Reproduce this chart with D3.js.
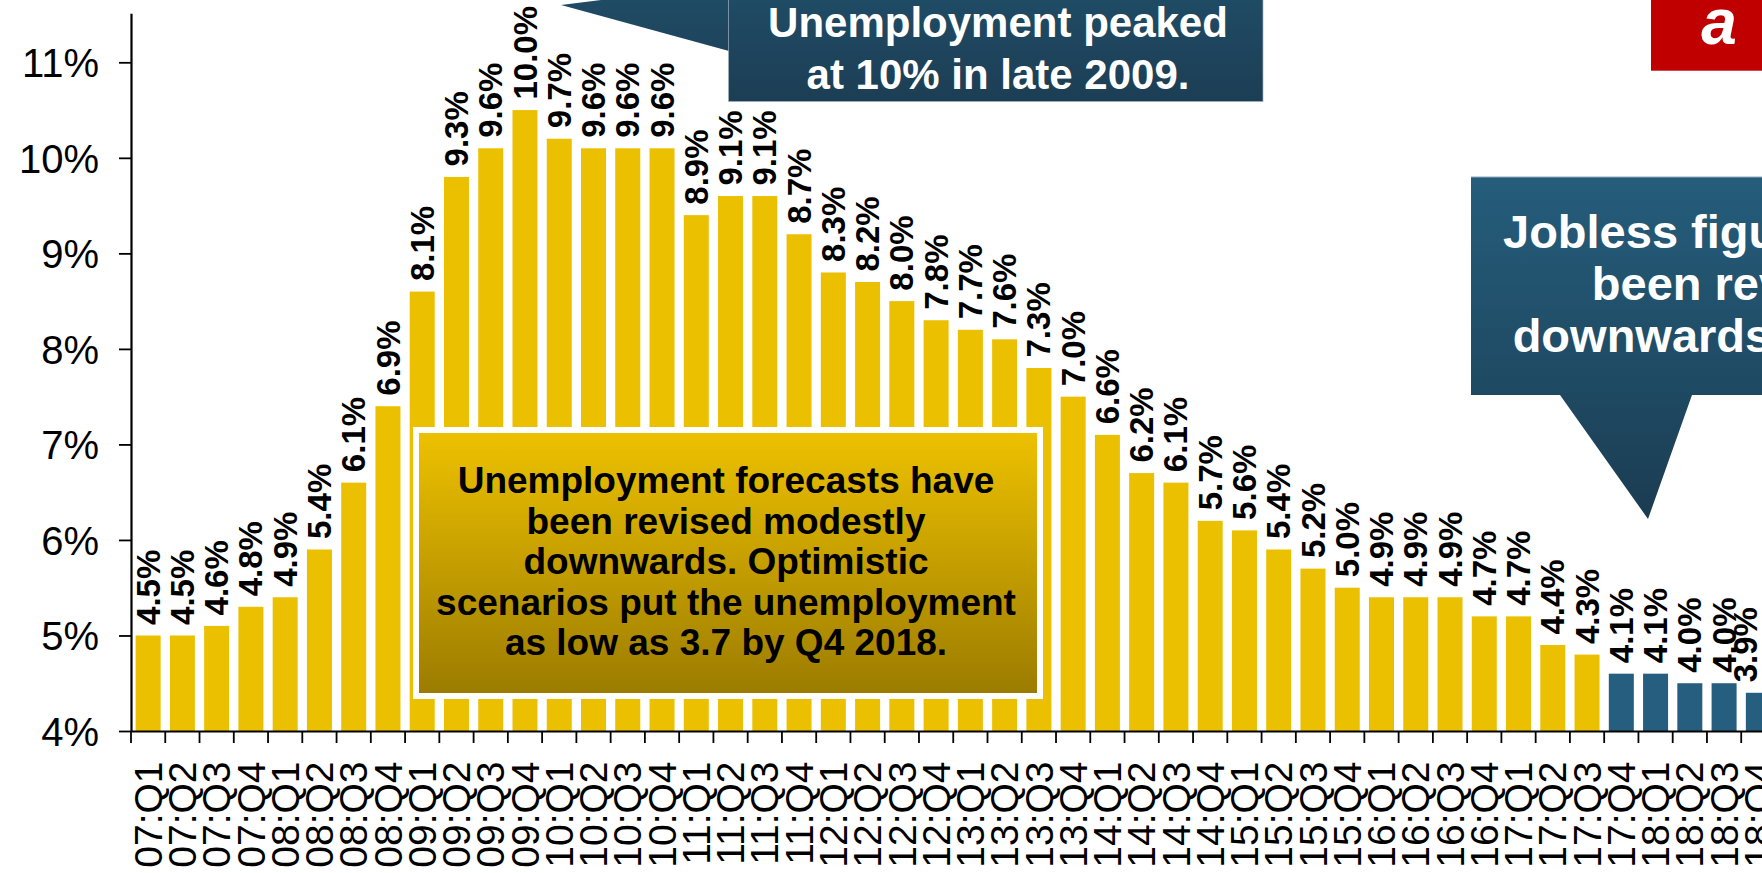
<!DOCTYPE html>
<html>
<head>
<meta charset="utf-8">
<script src="https://cdn.jsdelivr.net/npm/d3@7/dist/d3.min.js"></script>
<style>
  html, body { margin: 0; padding: 0; background: #fff; }
  svg { display: block; font-family: "Liberation Sans", Arial, sans-serif; }
</style>
</head>
<body>
<svg id="chart" width="1762" height="873"></svg>
<script>
// Quarterly unemployment rate, 2007 Q1 – 2018 Q4 (last five quarters are forecasts)
const quarters = [
  "07:Q1","07:Q2","07:Q3","07:Q4","08:Q1","08:Q2","08:Q3","08:Q4",
  "09:Q1","09:Q2","09:Q3","09:Q4","10:Q1","10:Q2","10:Q3","10:Q4",
  "11:Q1","11:Q2","11:Q3","11:Q4","12:Q1","12:Q2","12:Q3","12:Q4",
  "13:Q1","13:Q2","13:Q3","13:Q4","14:Q1","14:Q2","14:Q3","14:Q4",
  "15:Q1","15:Q2","15:Q3","15:Q4","16:Q1","16:Q2","16:Q3","16:Q4",
  "17:Q1","17:Q2","17:Q3","17:Q4","18:Q1","18:Q2","18:Q3","18:Q4"
];
const unemploymentRate = [
  4.5, 4.5, 4.6, 4.8, 4.9, 5.4, 6.1, 6.9,
  8.1, 9.3, 9.6, 10.0, 9.7, 9.6, 9.6, 9.6,
  8.9, 9.1, 9.1, 8.7, 8.3, 8.2, 8.0, 7.8,
  7.7, 7.6, 7.3, 7.0, 6.6, 6.2, 6.1, 5.7,
  5.6, 5.4, 5.2, 5.0, 4.9, 4.9, 4.9, 4.7,
  4.7, 4.4, 4.3, 4.1, 4.1, 4.0, 4.0, 3.9
];
const forecastFrom = "17:Q4";
const yTickValues = [3.5, 4.5, 5.5, 6.5, 7.5, 8.5, 9.5, 10.5];
const yTickLabels = ["4%", "5%", "6%", "7%", "8%", "9%", "10%", "11%"];

const peakNote = ["Unemployment peaked", "at 10% in late 2009."];
const forecastNote = ["Unemployment forecasts have", "been revised modestly",
  "downwards. Optimistic", "scenarios put the unemployment", "as low as 3.7 by Q4 2018."];
const revisionNote = ["Jobless figures have", "been revised", "downwards slightly."];

const W = 1762, H = 873;
const plot = { left: 131, top: 13.3, bottom: 731, step: 34.26 };
const COLOR_ACTUAL = "#ebc000";
const COLOR_FORECAST = "#255e7e";

const data = quarters.map((q, i) => ({ q, v: unemploymentRate[i], i }));
const forecastIndex = quarters.indexOf(forecastFrom);

const svg = d3.select("#chart");

const x = d3.scaleBand()
  .domain(quarters)
  .range([plot.left, plot.left + plot.step * quarters.length])
  .paddingInner(0.27)
  .paddingOuter(0.135);

const y = d3.scaleLinear()
  .domain([3.5, 11.013])
  .range([plot.bottom, plot.top]);

const defs = svg.append("defs");
function vGrad(id, stops, y1, y2) {
  const g = defs.append("linearGradient").attr("id", id)
    .attr("gradientUnits", "userSpaceOnUse")
    .attr("x1", 0).attr("x2", 0).attr("y1", y1).attr("y2", y2);
  stops.forEach(([o, c]) => g.append("stop").attr("offset", o).attr("stop-color", c));
}
vGrad("goldFill", [[0, "#edc100"], [1, "#9c7c00"]], 433, 693);
vGrad("blueFillTop", [[0, "#21506b"], [1, "#1c3e54"]], -40, 102);
vGrad("blueFillRight", [[0, "#255d7b"], [0.6, "#1f4a63"], [1, "#1b3c51"]], 177, 519);

// Bars
svg.append("g").selectAll("rect")
  .data(data)
  .join("rect")
  .attr("x", d => x(d.q))
  .attr("width", x.bandwidth())
  .attr("y", d => y(d.v))
  .attr("height", d => y(3.5) - y(d.v))
  .attr("fill", d => d.i >= forecastIndex ? COLOR_FORECAST : COLOR_ACTUAL);

// Value labels above each bar (kept inside the frame on the right)
const fmt = d3.format(".1f");
svg.append("g").selectAll("text")
  .data(data)
  .join("text")
  .attr("transform", d => {
    const cx = Math.min(x(d.q) + x.bandwidth() / 2, W - 17);
    return `translate(${cx},${y(d.v) - 10.5}) rotate(-90)`;
  })
  .attr("dy", "0.35em")
  .attr("text-anchor", "start")
  .attr("font-size", 33)
  .attr("font-weight", "bold")
  .attr("fill", "#000")
  .text(d => fmt(d.v) + "%");

// Y axis
const yAxis = svg.append("g")
  .attr("transform", `translate(${plot.left},0)`)
  .call(d3.axisLeft(y)
    .tickValues(yTickValues)
    .tickFormat((d, i) => yTickLabels[i])
    .tickSizeInner(12)
    .tickSizeOuter(0)
    .tickPadding(20));
yAxis.select(".domain").attr("stroke", "#000").attr("stroke-width", 2.2);
yAxis.selectAll(".tick line").attr("stroke", "#000").attr("stroke-width", 1.8);
yAxis.selectAll(".tick text")
  .attr("font-size", 40)
  .attr("font-family", "'Liberation Sans', Arial, sans-serif")
  .attr("fill", "#000")
  .attr("dy", "0.36em");

// X axis: category labels at band centres, tick marks at band boundaries
const xAxis = svg.append("g")
  .attr("transform", `translate(0,${plot.bottom})`)
  .call(d3.axisBottom(x).tickSize(0).tickSizeOuter(0));
xAxis.select(".domain").attr("stroke", "#000").attr("stroke-width", 2.2);
xAxis.selectAll(".tick text")
  .attr("transform", "rotate(-90)")
  .attr("x", -30.5)
  .attr("y", 0)
  .attr("dy", "0.35em")
  .attr("text-anchor", "end")
  .attr("font-size", 39)
  .attr("font-family", "'Liberation Sans', Arial, sans-serif")
  .attr("fill", "#000");
const half = x.step() * x.paddingInner() / 2;
xAxis.append("g").selectAll("line")
  .data(quarters)
  .join("line")
  .attr("x1", d => x(d) - half)
  .attr("x2", d => x(d) - half)
  .attr("y1", 0)
  .attr("y2", 12)
  .attr("stroke", "#000")
  .attr("stroke-width", 1.8);

// Gold note box over the middle of the chart
const note = svg.append("g");
note.append("rect").attr("x", 413).attr("y", 427).attr("width", 630).attr("height", 272)
  .attr("fill", "#fff");
note.append("rect").attr("x", 419).attr("y", 433).attr("width", 618).attr("height", 260)
  .attr("fill", "url(#goldFill)");
note.append("text")
  .attr("text-anchor", "middle")
  .attr("font-size", 37)
  .attr("font-weight", "bold")
  .attr("fill", "#000")
  .selectAll("tspan")
  .data(forecastNote)
  .join("tspan")
  .attr("x", 726)
  .attr("y", (d, i) => 493.3 + i * 40.4)
  .text(d => d);

// Peak callout (top)
const peak = svg.append("g");
peak.append("path")
  .attr("d", "M561,5 L729,-16 L729,51 Z")
  .attr("fill", "url(#blueFillTop)");
peak.append("rect").attr("x", 728.5).attr("y", -40).attr("width", 534.5).attr("height", 141.5)
  .attr("fill", "url(#blueFillTop)")
  .attr("stroke", "#9fb2bf").attr("stroke-width", 1).attr("stroke-opacity", 0.7);
peak.append("text")
  .attr("text-anchor", "middle")
  .attr("font-size", 42)
  .attr("font-weight", "bold")
  .attr("fill", "#fff")
  .selectAll("tspan")
  .data(peakNote)
  .join("tspan")
  .attr("x", 998)
  .attr("y", (d, i) => 37 + i * 51.6)
  .text(d => d);

// Revision callout (right)
const rev = svg.append("g");
rev.append("path")
  .attr("d", "M1471,177 L1800,177 L1800,395 L1692,395 L1648,519 L1560,395 L1471,395 Z")
  .attr("fill", "url(#blueFillRight)");
rev.append("line").attr("x1", 1471).attr("x2", 1800).attr("y1", 177).attr("y2", 177)
  .attr("stroke", "#8fa8b8").attr("stroke-width", 1);
rev.append("text")
  .attr("text-anchor", "middle")
  .attr("font-size", 47)
  .attr("font-weight", "bold")
  .attr("fill", "#fff")
  .selectAll("tspan")
  .data(revisionNote)
  .join("tspan")
  .attr("x", 1735.5)
  .attr("y", (d, i) => 248.3 + i * 51.7)
  .text(d => d);

// Red corner tag
svg.append("rect").attr("x", 1651).attr("y", 0).attr("width", 120).attr("height", 70.7)
  .attr("fill", "#c00000");
svg.append("text")
  .attr("x", 1719).attr("y", 43.5)
  .attr("text-anchor", "middle")
  .attr("font-size", 64)
  .attr("font-weight", "bold")
  .attr("font-style", "italic")
  .attr("fill", "#fff")
  .text("a");
</script>
</body>
</html>
